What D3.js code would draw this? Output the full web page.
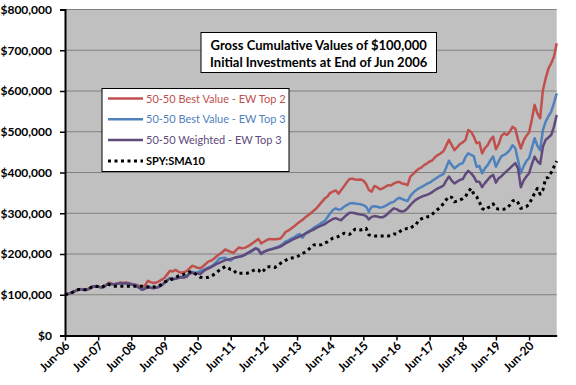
<!DOCTYPE html>
<html>
<head>
<meta charset="utf-8">
<script src="https://cdn.jsdelivr.net/npm/d3@7"></script>
<style>
  body { margin: 0; background: #fff; }
  text { font-family: Lato, "Liberation Sans", sans-serif; }
</style>
</head>
<body>
<div id="chart_container"></div>
<script>
// months since Jun-2006 (0 = Jun-06 ... 178 = Apr-21)
const tickLabels = ["Jun-06","Jun-07","Jun-08","Jun-09","Jun-10","Jun-11","Jun-12",
    "Jun-13","Jun-14","Jun-15","Jun-16","Jun-17","Jun-18","Jun-19","Jun-20"]

const seriesNames = ["50-50 Best Value - EW Top 2", "50-50 Best Value - EW Top 3",
    "50-50 Weighted - EW Top 3", "SPY:SMA10"]

// values in $ thousands, one per month
const bestValueTop2 = [
    100,102,104,107,110,113,114,112,113,117,120,121,120,118,119,125,130,127,126,128,
    130,129,130,129,127,126,124,121,118,123,134,131,129,130,133,137,141,150,159,157,
    161,157,154,155,158,164,171,169,166,165,170,176,182,184,189,195,200,205,211,208,
    205,203,210,216,214,215,218,222,227,232,237,226,230,234,237,236,236,237,238,246,
    255,258,263,268,274,279,284,290,295,300,306,312,320,328,336,341,350,353,356,348,
    357,366,376,384,385,383,382,383,380,372,357,353,367,364,359,361,365,369,368,373,
    376,377,373,372,369,390,396,403,409,412,418,422,427,430,438,443,447,452,466,480,
    467,455,462,470,474,480,504,500,488,472,474,447,460,467,480,488,457,470,490,496,
    492,500,512,508,480,459,478,490,498,530,566,545,533,602,631,655,668,684,717]

const bestValueTop3 = [
    100,102,104,107,110,113,113,112,112,116,120,121,120,118,119,124,127,126,126,127,
    128,128,128,127,126,125,122,117,113,116,121,118,117,118,120,124,130,136,141,139,
    140,142,144,143,145,153,156,154,155,158,161,164,167,170,175,182,189,190,191,186,
    184,190,192,193,194,197,201,204,208,214,212,202,206,209,211,213,215,217,221,226,
    231,234,238,241,246,249,240,250,255,259,264,268,272,277,281,290,300,308,312,309,
    310,316,320,324,325,324,323,322,320,316,304,316,317,316,314,315,318,322,326,328,
    334,338,335,332,330,342,350,356,361,364,368,372,375,380,384,389,393,396,412,429,
    418,410,416,421,423,438,447,443,440,414,416,398,410,418,430,439,414,428,440,443,
    448,455,467,460,430,398,415,428,435,460,484,466,455,504,525,538,549,570,594]

const weightedTop3 = [
    100,102,104,107,110,113,113,112,112,116,120,121,120,118,119,124,127,126,126,127,
    128,128,128,127,125,124,121,116,112,115,120,117,116,117,119,123,129,135,140,138,
    139,141,143,142,144,151,154,152,152,151,157,162,165,168,172,176,179,182,185,186,
    188,190,192,193,195,198,202,206,210,214,210,200,205,208,210,212,214,216,218,222,
    227,230,234,237,240,243,246,250,253,257,260,264,267,270,273,278,282,286,288,285,
    283,290,296,301,301,300,298,297,296,293,285,291,293,292,290,290,294,300,306,312,
    310,306,304,306,312,320,327,333,337,340,343,345,348,352,357,361,364,368,380,390,
    380,373,378,382,384,396,404,398,390,377,377,364,374,382,390,394,375,386,391,398,
    404,410,417,423,410,364,380,390,398,420,439,428,421,463,480,486,492,512,541]

const spySma10 = [
    100,102,104,107,110,113,113,112,112,116,120,121,120,119,121,126,125,122,121,121,
    121,121,121,121,121,121,121,121,121,120,119,118,119,120,121,126,131,134,136,139,
    142,146,148,150,153,156,157,152,148,143,142,142,143,146,150,155,161,165,169,166,
    162,161,153,153,153,153,153,155,159,162,161,154,160,168,169,168,167,172,177,181,
    185,188,190,191,193,197,201,205,210,216,222,223,222,223,227,230,235,239,241,243,
    246,251,249,248,254,261,260,259,261,263,247,245,244,244,244,244,244,244,246,249,
    249,254,259,261,263,263,268,271,283,286,289,291,292,298,304,310,315,324,333,341,
    339,328,330,333,336,341,353,361,347,341,328,312,308,313,316,323,312,310,310,310,
    312,320,330,333,326,312,314,316,322,336,349,361,347,357,386,388,400,414,428]

const seriesValues = [bestValueTop2, bestValueTop3, weightedTop3, spySma10]
const seriesColors = ["#C0504D", "#4F81BD", "#604A7B", "#000000"]

const yTicks = [0,100000,200000,300000,400000,500000,600000,700000,800000]

const width = 576, height = 385
const plot = {left: 65, right: 556.7, top: 9.5, bottom: 335.5}

const svg = d3.select("#chart_container").append("svg")
    .attr("width", width)
    .attr("height", height)

const x = d3.scaleLinear().domain([0, 178]).range([plot.left, plot.right])
const y = d3.scaleLinear().domain([0, 800000]).range([plot.bottom, plot.top])

svg.append("rect")
    .attr("x", plot.left).attr("y", plot.top)
    .attr("width", plot.right - plot.left).attr("height", plot.bottom - plot.top)
    .attr("fill", "#C0C0C0")

// gridlines
svg.append("g").selectAll("line")
    .data(yTicks.slice(1))
    .enter().append("line")
    .attr("x1", plot.left).attr("x2", plot.right)
    .attr("y1", d => y(d)).attr("y2", d => y(d))
    .attr("stroke", "#808080").attr("stroke-width", 1)

// y axis
const yAxis = svg.append("g")
    .attr("transform", `translate(${plot.left},0)`)
    .call(d3.axisLeft(y).tickValues(yTicks).tickSize(5).tickPadding(8).tickFormat(d3.format("$,")))
yAxis.select(".domain").attr("stroke", "#000").attr("stroke-width", 2)
yAxis.selectAll(".tick line").attr("stroke", "#000").attr("stroke-width", 1.5)
yAxis.selectAll("text")
    .attr("font-family", "Lato, sans-serif")
    .attr("font-size", 12).attr("font-weight", "bold").attr("fill", "#000")

// x axis, one tick each June
const xTickValues = tickLabels.map((d, i) => i * 12)
const xAxis = svg.append("g")
    .attr("transform", `translate(0,${plot.bottom})`)
    .call(d3.axisBottom(x).tickValues(xTickValues).tickSize(5).tickSizeOuter(0)
        .tickFormat((d, i) => tickLabels[i]))
xAxis.select(".domain").attr("stroke", "#000").attr("stroke-width", 2)
xAxis.selectAll(".tick line").attr("stroke", "#000").attr("stroke-width", 1.5)
xAxis.selectAll("text")
    .attr("font-family", "Lato, sans-serif")
    .attr("font-size", 12).attr("font-weight", "bold").attr("fill", "#000")
    .attr("text-anchor", "end")
    .attr("dy", null)
    .attr("y", 0)
    .attr("transform", "translate(5,11) rotate(-45)")

// series lines
const line = d3.line()
    .x((d, i) => x(i))
    .y(d => y(d * 1000))

seriesValues.forEach((vals, i) => {
    const path = svg.append("path")
        .datum(vals)
        .attr("fill", "none")
        .attr("stroke", seriesColors[i])
        .attr("stroke-width", i == 3 ? 3 : 2.5)
        .attr("stroke-linejoin", "round")
        .attr("d", line)
    if (i == 3) path.attr("stroke-dasharray", "3,3.5")
})

// title box
const titleBox = svg.append("g")
titleBox.append("rect")
    .attr("x", 201).attr("y", 32.5).attr("width", 235.5).attr("height", 40)
    .attr("fill", "#fff").attr("stroke", "#000").attr("stroke-width", 1)
titleBox.selectAll("text")
    .data(["Gross Cumulative Values of $100,000", "Initial Investments at End of Jun 2006"])
    .enter().append("text")
    .attr("x", 318.7)
    .attr("y", (d, i) => 49.5 + i * 17.5)
    .attr("text-anchor", "middle")
    .attr("font-size", 13).attr("font-weight", "bold")
    .text(d => d)

// legend
const legend = svg.append("g")
legend.append("rect")
    .attr("x", 102).attr("y", 88.5).attr("width", 187).attr("height", 83)
    .attr("fill", "#fff").attr("stroke", "#000").attr("stroke-width", 1)
const items = legend.selectAll("g.item")
    .data(seriesNames)
    .enter().append("g")
    .attr("class", "item")
    .attr("transform", (d, i) => `translate(0,${98.5 + i * 20.8})`)
items.append("line")
    .attr("x1", 108).attr("x2", 143)
    .attr("stroke", (d, i) => seriesColors[i])
    .attr("stroke-width", (d, i) => i == 3 ? 3 : 2.5)
    .attr("stroke-dasharray", (d, i) => i == 3 ? "3,3.5" : null)
items.append("text")
    .attr("x", 146).attr("y", 4)
    .attr("font-size", 11)
    .attr("font-weight", (d, i) => i == 3 ? "bold" : "normal")
    .attr("fill", (d, i) => seriesColors[i])
    .text(d => d)
</script>
</body>
</html>
